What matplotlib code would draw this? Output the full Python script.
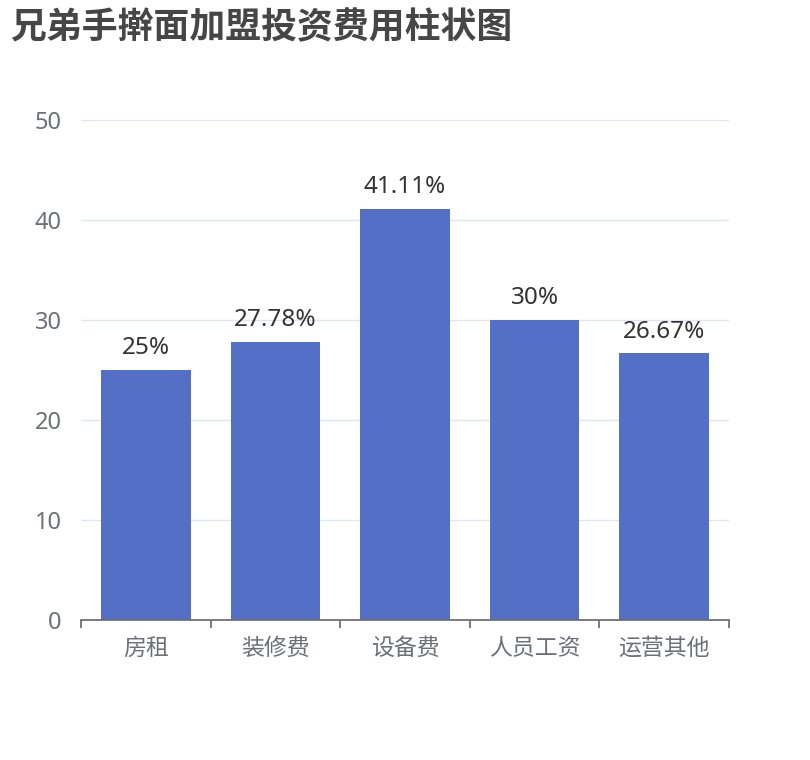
import matplotlib
matplotlib.use('agg')
import matplotlib.pyplot as plt

plt.rcParams['font.family'] = ['Noto Sans', 'Noto Sans CJK SC', 'DejaVu Sans']

categories = ['房租', '装修费', '设备费', '人员工资', '运营其他']
values = [25, 27.78, 41.11, 30, 26.67]
value_labels = ['25%', '27.78%', '41.11%', '30%', '26.67%']
yticks = [0, 10, 20, 30, 40, 50]

fig = plt.figure(figsize=(8.1, 7.6), dpi=100)
ax = fig.add_axes([81 / 810, 140 / 760, 648 / 810, 500 / 760])

x = list(range(len(categories)))
bars = ax.bar(x, values, width=0.69, color='#5470c6', zorder=3)
for b, lab in zip(bars, value_labels):
    ax.annotate(lab, (b.get_x() + b.get_width() / 2, b.get_height()),
                xytext=(0, 7), textcoords='offset points',
                ha='center', va='bottom', fontsize=17.5, color='#333333')

ax.set_xlim(-0.5, len(categories) - 0.5)
ax.set_ylim(0, 50)
ax.set_yticks(yticks)
ax.yaxis.grid(True, color='#e0e6f1', linewidth=1, zorder=0)
ax.tick_params(axis='y', length=0, pad=14, labelsize=17, labelcolor='#6e7079')

ax.set_xticks(x)
ax.set_xticklabels(categories)
ax.set_xticks([i - 0.5 for i in range(len(categories) + 1)], minor=True)
ax.tick_params(axis='x', which='major', length=0, pad=12, labelsize=16.5, labelcolor='#6e7079')
ax.tick_params(axis='x', which='minor', length=6, width=1.3, color='#6e7079')

for s in ['top', 'right', 'left']:
    ax.spines[s].set_visible(False)
ax.spines['bottom'].set_color('#6e7079')
ax.spines['bottom'].set_linewidth(1.3)
ax.spines['bottom'].set_zorder(4)

fig.text(10 / 810, 1 - 28 / 760, '兄弟手擀面加盟投资费用柱状图', fontsize=25.8,
         fontweight='bold', color='#464646', ha='left', va='center',
         family=['Noto Sans CJK SC', 'DejaVu Sans'])

fig.savefig('out.png', dpi=100)
